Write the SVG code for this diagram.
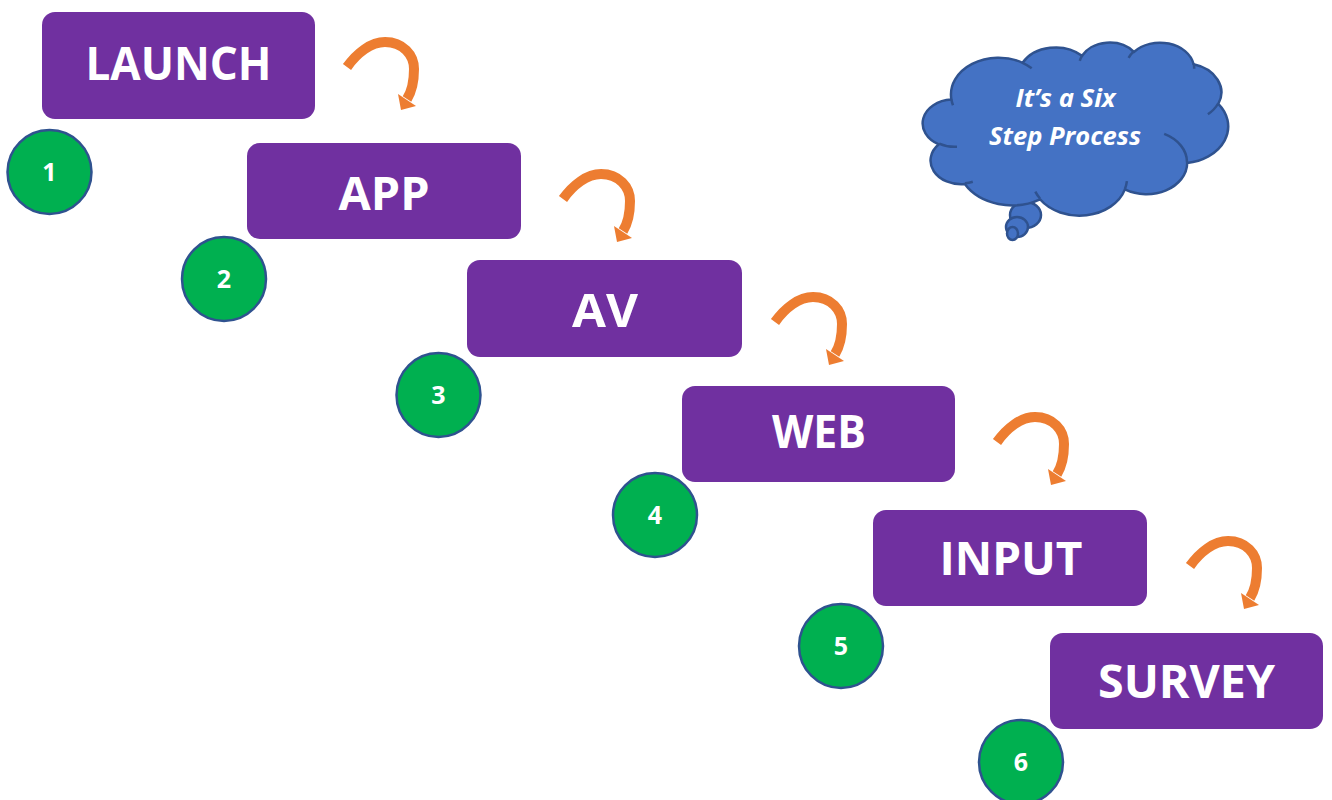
<svg xmlns="http://www.w3.org/2000/svg" xmlns:xlink="http://www.w3.org/1999/xlink" width="1332" height="800" viewBox="0 0 1332 800">
  <style>
    .box { fill: #7030A0; }
    .label { font-family: "Open Sans", "Liberation Sans", sans-serif; font-weight: 700; font-size: 47px; fill: #FFFFFF; text-anchor: middle; }
    .badge { fill: #00B050; stroke: #2F528F; stroke-width: 2.5; }
    .num { font-family: "Open Sans", "Liberation Sans", sans-serif; font-weight: 700; font-size: 25px; fill: #FFFFFF; text-anchor: middle; }
    .shaft { fill: none; stroke: #ED7D31; stroke-width: 10; stroke-linecap: butt; }
    .head { fill: #ED7D31; }
    .cloud { fill: #4472C4; stroke: #2F528F; stroke-width: 2.5; stroke-linejoin: round; }
    .cloudline { fill: none; stroke: #2F528F; stroke-width: 2.5; }
    .cloudtext { font-family: "Open Sans", "Liberation Sans", sans-serif; font-weight: 700; font-style: italic; font-size: 24.5px; fill: #FFFFFF; text-anchor: middle; }
  </style>
  <defs>
    <g id="curvedArrow">
      <path class="shaft" d="M0,0 C10,-14 24,-25 38,-25 C56,-25 67,-12 67,2 C67,12 65,24 60,32"/>
      <polygon class="head" points="51,27 69,39 54,43"/>
    </g>
  </defs>

  <g id="connectors">
    <use xlink:href="#curvedArrow" href="#curvedArrow" transform="translate(347,67)"/>
    <use xlink:href="#curvedArrow" href="#curvedArrow" transform="translate(563,199)"/>
    <use xlink:href="#curvedArrow" href="#curvedArrow" transform="translate(775,322)"/>
    <use xlink:href="#curvedArrow" href="#curvedArrow" transform="translate(997,442)"/>
    <use xlink:href="#curvedArrow" href="#curvedArrow" transform="translate(1190,566)"/>
  </g>

  <g id="step-launch">
    <rect class="box" x="42" y="12" width="273" height="107" rx="13"/>
    <text class="label" x="178.5" y="80" textLength="186" lengthAdjust="spacingAndGlyphs">LAUNCH</text>
  </g>
  <g id="step-app">
    <rect class="box" x="247" y="143" width="274" height="96" rx="13"/>
    <text class="label" x="384" y="210" textLength="91" lengthAdjust="spacingAndGlyphs">APP</text>
  </g>
  <g id="step-av">
    <rect class="box" x="467" y="260" width="275" height="97" rx="13"/>
    <text class="label" x="605" y="327" textLength="66" lengthAdjust="spacingAndGlyphs">AV</text>
  </g>
  <g id="step-web">
    <rect class="box" x="682" y="386" width="273" height="96" rx="13"/>
    <text class="label" x="819" y="448" textLength="94" lengthAdjust="spacingAndGlyphs">WEB</text>
  </g>
  <g id="step-input">
    <rect class="box" x="873" y="510" width="274" height="96" rx="13"/>
    <text class="label" x="1011" y="575" textLength="143" lengthAdjust="spacingAndGlyphs">INPUT</text>
  </g>
  <g id="step-survey">
    <rect class="box" x="1050" y="633" width="273" height="96" rx="13"/>
    <text class="label" x="1186.5" y="698" textLength="177" lengthAdjust="spacingAndGlyphs">SURVEY</text>
  </g>

  <g id="badge-1">
    <circle class="badge" cx="49.5" cy="172" r="42"/>
    <text class="num" x="49.5" y="181">1</text>
  </g>
  <g id="badge-2">
    <circle class="badge" cx="224" cy="279" r="42"/>
    <text class="num" x="224" y="288">2</text>
  </g>
  <g id="badge-3">
    <circle class="badge" cx="438.5" cy="395" r="42"/>
    <text class="num" x="438.5" y="404">3</text>
  </g>
  <g id="badge-4">
    <circle class="badge" cx="655" cy="515" r="42"/>
    <text class="num" x="655" y="524">4</text>
  </g>
  <g id="badge-5">
    <circle class="badge" cx="841" cy="646" r="42"/>
    <text class="num" x="841" y="655">5</text>
  </g>
  <g id="badge-6">
    <circle class="badge" cx="1021" cy="762" r="42"/>
    <text class="num" x="1021" y="771">6</text>
  </g>

  <g id="thought-cloud">
    <ellipse class="cloud" cx="1025.5" cy="215" rx="15.5" ry="13"/>
    <ellipse class="cloud" cx="1017" cy="227" rx="11" ry="10"/>
    <ellipse class="cloud" cx="1012.5" cy="233.5" rx="5.5" ry="6.5"/>
    <path class="cloud" d="M951.4,99.5
      A47.52,36.80 0 0 1 1022.6,62.8
      A37.53,29.10 0 0 1 1082.0,55.8
      A30.72,23.81 0 0 1 1133.9,52.0
      A34.18,26.41 0 0 1 1193.6,64.3
      A37.53,29.13 0 0 1 1218.3,103.9
      A47.68,36.92 0 0 1 1187.2,163.0
      A40.71,31.50 0 0 1 1124.9,189.4
      A47.51,36.90 0 0 1 1040.0,199.3
      A54.33,42.22 0 0 1 964.8,184.1
      A30.68,23.70 0 0 1 938.9,144.3
      A30.58,23.81 0 0 1 951.4,99.5 Z"/>
    <path class="cloudline" d="M957.0,146.8 A30.58,23.81 0 0 1 939.2,143.6
      M972.8,181.8 A30.68,23.70 0 0 1 965.0,183.3
      M1040.0,198.5 A47.51,36.90 0 0 1 1035.3,191.6
      M1126.9,181.2 A47.51,36.90 0 0 1 1125.0,188.8
      M1164.2,133.9 A40.71,31.50 0 0 1 1187.0,162.5
      M1218.1,103.5 A37.53,29.13 0 0 1 1207.9,114.2
      M1193.7,63.7 A34.18,26.41 0 0 1 1194.2,68.8
      M1128.6,57.8 A34.18,26.41 0 0 1 1133.8,51.4
      M1079.8,60.9 A30.72,23.81 0 0 1 1082.3,55.3
      M1022.5,62.8 A47.52,36.80 0 0 1 1031.7,68.2
      M953.0,105.2 A47.52,36.80 0 0 1 951.4,99.5"/>
    <text class="cloudtext" x="1065.5" y="107" textLength="100" lengthAdjust="spacingAndGlyphs">It’s a Six</text>
    <text class="cloudtext" x="1065" y="145" textLength="152" lengthAdjust="spacingAndGlyphs">Step Process</text>
  </g>
</svg>
